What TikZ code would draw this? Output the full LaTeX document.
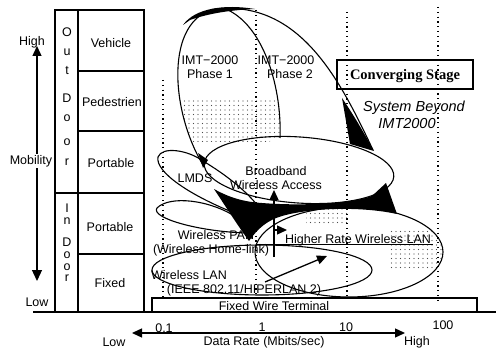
\documentclass[tikz,border=0pt]{standalone}
\usepackage{fontspec}
\setmainfont{Liberation Sans}
\newfontfamily\serifbf{Liberation Serif}
\usetikzlibrary{arrows.meta,patterns.meta}
\tikzset{
  lbl/.style={font=\fontsize{12.5}{14}\selectfont, inner sep=0pt},
  tbl/.style={line width=1.1pt},
  outl/.style={line width=1.1pt},
  dotl/.style={line width=1.3pt, dash pattern=on 1.2pt off 3.6pt},
  tip/.style={-{Triangle[length=10pt,width=9pt]}, line width=1.3pt},
  stip/.style={pattern={Dots[distance=4.5pt,radius=0.55pt]}, pattern color=black!70},
}
\begin{document}
\begin{tikzpicture}[x=1pt,y=-1pt]
\useasboundingbox (0,0) rectangle (496,353);
% stipple shading
\begin{scope}
\clip (203,165) .. controls (170,110) and (165,20) .. (215,9) -- (228,10)
  .. controls (265,28) and (282,90) .. (280,138) -- cycle;
\fill[stip] (182,100) rectangle (285,142);
\end{scope}
\begin{scope}
\clip (349,252) ellipse [x radius=94, y radius=45];
\fill[stip] (306,206) rectangle (350,224);
\fill[stip] (388,230) rectangle (442,268);
\end{scope}
% dotted guide lines
\draw[dotl] (163,80) -- (163,300);
\draw[dotl] (256,10) -- (256,300);
\draw[dotl] (347,12) -- (347,300);
\draw[dotl] (438,7) -- (438,300);
% table
\draw[tbl] (55,312) -- (55,10) -- (144,10) -- (144,312);
\draw[tbl] (78,10) -- (78,312);
\draw[tbl] (78,71) -- (144,71);
\draw[line width=2.2pt] (78,131) -- (144,131);
\draw[tbl] (55,193) -- (144,193);
\draw[tbl] (78,254) -- (144,254);
\draw[tbl] (33,312) -- (496,312);
% outdoor / indoor letters
\node[lbl] (o1) at (67,32) {O};
\node[lbl] (o2) at (67,52) {u};
\node[lbl] (o3) at (67,71) {t};
\node[lbl] (o4) at (67,98) {D};
\node[lbl] (o5) at (67,118) {o};
\node[lbl] (o6) at (67,142) {o};
\node[lbl] (o7) at (67,162) {r};
\node[lbl] (i1) at (67,208) {I};
\node[lbl] (i2) at (67,221) {n};
\node[lbl] (i3) at (67,242) {D};
\node[lbl] (i4) at (67,255) {o};
\node[lbl] (i5) at (67,267) {o};
\node[lbl] (i6) at (67,278) {r};
\node[lbl] (veh) at (111,43) {Vehicle};
\node[lbl] (ped) at (112,102) {Pedestrien};
\node[lbl] (por1) at (111,163) {Portable};
\node[lbl] (por2) at (110,227) {Portable};
\node[lbl] (fix) at (110,283) {Fixed};
% mobility axis
\coordinate (mtop) at (37,46);
\coordinate (mbot) at (37,281);
\draw[{Triangle[length=10pt,width=9pt]}-{Triangle[length=11pt,width=10pt]}, line width=1.3pt] (mtop) -- (mbot);
\node[lbl] (mhigh) at (32,42) {High};
\node[lbl, fill=white, inner sep=1pt] (mob) at (31,161) {Mobility};
\node[lbl] (mlow) at (37,302) {Low};
% data-rate axis
\coordinate (dl) at (132,333);
\coordinate (dr) at (405,333);
\draw[{Triangle[length=10pt,width=9pt]}-{Triangle[length=10pt,width=9pt]}, line width=1.3pt] (dl) -- (dr);
\node[lbl] (t01) at (164,328) {0.1};
\node[lbl] (t1) at (262,327) {1};
\node[lbl] (t10) at (346,327) {10};
\node[lbl] (t100) at (443,325) {100};
\node[lbl] (dlow) at (114,342) {Low};
\node[lbl] (drate) at (264,342) {Data Rate (Mbits/sec)};
\node[lbl] (dhigh) at (417,342) {High};
% fixed wire terminal
\draw[tbl] (152,312) -- (152,298) -- (477,298) -- (477,312);
\node[lbl] (fwt) at (274,306) {Fixed Wire Terminal};
% ellipses
\draw[outl, rotate around={-4:(299,170)}] (299,170) ellipse [x radius=95, y radius=33];
\draw[outl] (349,252) ellipse [x radius=94, y radius=45];
\draw[outl] (262,270) ellipse [x radius=110, y radius=25];
% LMDS outline
\draw[outl] (258,206) .. controls (242,186) and (218,170) .. (203,161)
  .. controls (188,150) and (162,146) .. (158,157)
  .. controls (155,172) and (190,195) .. (232,212);
% PAN outline
\draw[outl] (236,217) .. controls (210,200) and (170,195) .. (157,208)
  .. controls (150,218) and (200,232) .. (248,233);
% IMT-2000 outlines
\draw[outl] (203,165) .. controls (170,110) and (165,20) .. (215,9)
  .. controls (300,0) and (340,80) .. (373,150);
\draw[outl] (228,10) .. controls (265,28) and (282,90) .. (280,138);
% black regions
\fill (183,25) .. controls (195,8) and (225,4) .. (255,9)
  .. controls (232,10) and (210,13) .. (190,20) -- cycle;
\fill (342,98) .. controls (357,120) and (366,137) .. (374,151) -- (350,144) -- cycle;
\fill (198,153) -- (208,160) -- (203,168) -- cycle;
\fill (214,189) .. controls (230,198) and (245,202) .. (262,203)
  .. controls (300,206) and (350,204) .. (372,196)
  -- (386,183) -- (397,214)
  .. controls (360,206) and (310,208) .. (282,216)
  .. controls (268,220) and (258,228) .. (249,241)
  .. controls (238,226) and (224,204) .. (214,189) -- cycle;
% arrows in the middle
\coordinate (va0) at (274,257);
\coordinate (va1) at (274,190);
\draw[tip] (va0) -- (va1);
\coordinate (ha0) at (274,230);
\coordinate (ha1) at (287,230);
\draw[tip] (ha0) -- (ha1);
\coordinate (da0) at (265,282);
\coordinate (da1) at (327,256);
\draw[tip] (da0) -- (da1);
\coordinate (ul0) at (257,244);
\coordinate (ul1) at (433,244);
\draw[line width=1pt] (ul0) -- (ul1);
% labels of technologies
\node[lbl] (imt1a) at (210,60) {IMT−2000};
\node[lbl] (imt1b) at (210,74) {Phase 1};
\node[lbl] (imt2a) at (286,60) {IMT−2000};
\node[lbl] (imt2b) at (290,74) {Phase 2};
\node[lbl] (lmds) at (195,178) {LMDS};
\node[lbl] (bb1) at (276,171) {Broadband};
\node[lbl] (bb2) at (276,185) {Wireless Access};
\node[lbl] (pan1) at (216,235) {Wireless PAN};
\node[lbl] (pan2) at (211,250) {(Wireless Home-link)};
\node[lbl] (hr) at (358,240) {Higher Rate Wireless LAN};
\node[lbl] (wl1) at (189,275) {Wireless LAN};
\node[lbl] (wl2) at (244,290) {(IEEE 802.11/HIPERLAN 2)};
% converging stage
\draw[line width=1.4pt] (337,60) rectangle (473,89);
\node[font=\serifbf\bfseries\fontsize{14.5}{16}\selectfont, inner sep=0pt] (conv) at (405,76) {Converging Stage};
\node[font=\itshape\fontsize{14.5}{16}\selectfont, inner sep=0pt] (sb1) at (414,108) {System Beyond};
\node[font=\itshape\fontsize{14.5}{16}\selectfont, inner sep=0pt] (sb2) at (407,124) {IMT2000};
\end{tikzpicture}
\end{document}
